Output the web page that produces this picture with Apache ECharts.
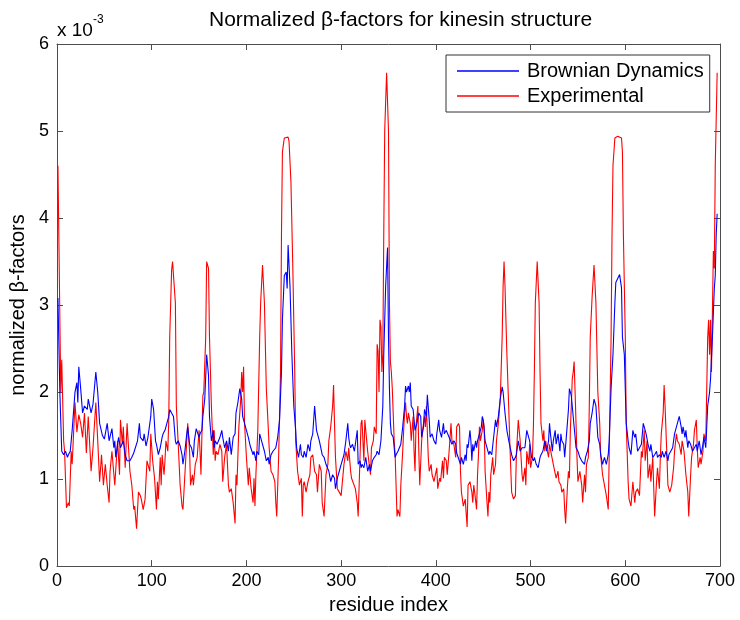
<!DOCTYPE html>
<html>
<head>
<meta charset="utf-8">
<script src="https://cdn.jsdelivr.net/npm/echarts@6/dist/echarts.min.js"></script>
<style>
  html, body { margin: 0; padding: 0; background: #fff; }
  #chart { width: 740px; height: 620px; }
</style>
</head>
<body>
<div id="chart"></div>
<script>
// values are in units of 1e-3
const expRes = [
  1, 4, 5, 7, 8, 10, 12, 13, 15, 16, 19, 21, 23, 25, 27, 29, 31, 33, 36, 38, 41, 43, 45, 47, 49, 51, 53, 55, 56, 58,
  61, 64, 66, 67, 69, 70, 72, 74, 76, 77, 79, 81, 82, 84, 86, 88, 89, 91, 93, 95, 98, 99, 101, 103, 105, 106, 107, 109, 110, 111,
  113, 114, 115, 117, 118, 119, 121, 122, 125, 126, 128, 130, 132, 133, 135, 137, 138, 140, 141, 143, 144, 146, 148, 150, 151, 152, 154, 155, 157, 158,
  160, 161, 163, 165, 166, 167, 168, 170, 172, 174, 175, 177, 179, 181, 182, 184, 186, 188, 189, 190, 192, 194, 195, 196, 197, 198, 200, 202, 203, 205,
  207, 208, 209, 210, 212, 214, 215, 217, 219, 221, 223, 224, 226, 228, 230, 231, 232, 234, 236, 237, 238, 240, 242, 244, 245, 247, 249, 251, 252, 254,
  256, 258, 259, 260, 261, 263, 265, 267, 268, 270, 272, 274, 275, 277, 279, 280, 282, 284, 286, 287, 289, 291, 292, 293, 294, 296, 298, 300, 301, 303,
  305, 307, 308, 310, 311, 313, 315, 317, 318, 320, 321, 322, 324, 325, 326, 328, 330, 331, 332, 334, 335, 337, 338, 339, 340, 341, 342, 343, 344, 345,
  346, 348, 350, 351, 352, 353, 354, 356, 357, 359, 360, 362, 363, 364, 365, 366, 367, 368, 369, 370, 371, 373, 374, 376, 377, 378, 379, 381, 382, 383,
  385, 386, 388, 389, 390, 392, 393, 395, 396, 398, 400, 401, 402, 404, 405, 407, 408, 409, 411, 412, 414, 415, 416, 417, 419, 421, 422, 424, 425, 426,
  427, 429, 431, 433, 434, 436, 438, 439, 440, 441, 443, 444, 445, 446, 447, 449, 450, 451, 452, 454, 455, 456, 457, 458, 460, 461, 463, 464, 466, 468,
  470, 471, 472, 473, 475, 477, 478, 480, 482, 484, 485, 487, 489, 491, 492, 494, 495, 496, 498, 499, 500, 502, 503, 504, 505, 507, 509, 510, 511, 513,
  514, 515, 516, 517, 519, 520, 522, 524, 526, 527, 529, 530, 532, 533, 535, 536, 537, 539, 540, 541, 542, 543, 544, 545, 546, 547, 548, 549, 550, 552,
  554, 555, 557, 558, 559, 561, 562, 563, 565, 567, 569, 571, 573, 574, 576, 578, 580, 582, 583, 585, 586, 587, 589, 592, 596, 597, 598, 600, 601, 603,
  604, 606, 608, 610, 611, 613, 615, 617, 618, 620, 621, 623, 624, 626, 627, 629, 631, 633, 634, 636, 637, 638, 640, 641, 642, 644, 645, 647, 649, 651,
  652, 654, 655, 657, 659, 660, 662, 664, 666, 667, 669, 670, 672, 673, 675, 676, 677, 679, 680, 682, 683, 685, 687, 688, 689, 690, 691, 693, 694, 695,
  697
];
const expVal = [
  4.60, 2.00, 2.37, 1.44, 1.32, 0.67, 0.73, 0.69, 1.32, 1.17, 1.88, 1.54, 1.74, 1.64, 1.48, 1.76, 1.30, 1.72, 1.09, 1.36, 1.88, 1.44, 0.97, 1.28, 0.93, 1.17, 0.93, 0.73, 1.09, 1.32,
  0.93, 1.44, 1.05, 1.68, 1.40, 1.60, 1.13, 1.64, 1.64, 1.09, 0.93, 0.65, 0.69, 0.43, 0.85, 0.81, 0.77, 0.65, 0.77, 1.21, 1.09, 1.52, 1.21, 1.01, 0.65, 0.97, 0.77, 1.25, 0.93, 1.28,
  1.05, 1.21, 1.44, 1.32, 1.68, 2.63, 3.40, 3.50, 3.02, 1.84, 1.40, 0.93, 0.69, 0.65, 0.67, 1.44, 1.64, 1.32, 0.93, 1.05, 0.93, 1.17, 1.25, 1.56, 1.32, 1.05, 1.96, 2.00, 2.63, 3.50,
  3.42, 2.63, 1.84, 1.28, 1.56, 1.21, 1.32, 1.28, 1.40, 1.32, 0.97, 1.25, 1.40, 0.93, 0.85, 0.89, 0.73, 0.49, 1.05, 0.93, 1.60, 1.92, 2.23, 2.00, 2.29, 1.64, 1.25, 0.93, 1.13, 0.89,
  0.73, 1.01, 0.69, 1.05, 1.56, 2.63, 3.02, 3.46, 3.02, 2.04, 1.60, 1.36, 1.09, 1.05, 0.97, 0.73, 0.57, 1.25, 2.23, 3.81, 4.76, 4.92, 4.94, 4.93, 4.88, 4.41, 3.42, 2.23, 1.44, 1.09,
  0.93, 1.01, 0.57, 0.93, 0.97, 0.85, 0.97, 1.05, 1.25, 1.28, 1.09, 1.05, 0.85, 1.17, 1.09, 0.73, 0.57, 1.05, 1.17, 1.44, 1.60, 1.84, 2.08, 1.64, 1.25, 0.89, 0.85, 0.81, 0.93, 1.17,
  1.32, 1.21, 1.36, 1.09, 1.01, 1.01, 0.89, 0.73, 0.57, 1.28, 1.64, 1.68, 1.21, 1.68, 1.56, 1.32, 1.13, 1.05, 1.36, 1.44, 1.60, 1.52, 2.55, 2.47, 2.00, 2.83, 2.75, 2.23, 2.43, 3.81,
  5.00, 5.67, 5.00, 3.02, 2.35, 2.23, 2.04, 1.44, 1.28, 0.57, 0.65, 0.57, 0.93, 0.93, 1.32, 1.56, 1.76, 1.88, 1.72, 1.64, 1.76, 1.64, 1.44, 1.72, 1.32, 1.09, 1.60, 1.84, 1.32, 0.93,
  1.44, 1.56, 1.72, 1.60, 1.84, 1.25, 1.09, 1.17, 1.05, 0.97, 0.97, 1.13, 0.89, 1.01, 0.97, 1.21, 1.01, 1.25, 1.21, 1.05, 1.32, 1.32, 1.64, 1.44, 1.40, 1.25, 1.60, 1.64, 1.60, 1.09,
  0.85, 0.69, 0.77, 0.45, 0.93, 0.97, 0.85, 0.73, 0.93, 0.85, 0.65, 1.05, 1.28, 1.60, 1.44, 1.56, 1.68, 1.60, 1.09, 0.73, 0.57, 0.85, 0.73, 1.05, 1.25, 1.05, 1.17, 1.44, 1.64, 1.92,
  2.63, 3.22, 3.50, 3.22, 2.43, 1.80, 1.44, 0.85, 0.77, 0.81, 1.28, 1.68, 1.44, 1.05, 0.97, 1.13, 0.93, 1.32, 1.17, 1.40, 1.13, 1.25, 1.60, 2.23, 3.02, 3.50, 3.02, 2.23, 1.64, 1.44,
  1.56, 1.32, 1.44, 1.36, 1.25, 1.40, 1.28, 1.17, 1.17, 1.01, 1.09, 0.97, 0.93, 0.85, 0.89, 0.65, 0.49, 0.93, 1.09, 1.01, 1.56, 1.84, 2.15, 2.23, 2.35, 2.00, 1.64, 1.25, 0.97, 1.09,
  0.93, 0.73, 1.05, 0.85, 1.17, 1.25, 1.84, 2.63, 3.10, 3.46, 3.02, 2.00, 1.64, 1.28, 1.05, 0.93, 0.81, 0.65, 1.25, 2.63, 3.81, 4.60, 4.92, 4.94, 4.92, 4.76, 3.81, 2.63, 1.64, 0.97,
  0.77, 0.69, 0.97, 0.73, 0.85, 0.89, 0.81, 1.32, 1.25, 1.56, 1.21, 1.44, 1.01, 1.17, 0.97, 1.25, 0.57, 0.97, 1.13, 0.89, 1.25, 1.52, 1.76, 2.08, 1.84, 1.25, 0.93, 0.85, 0.93, 1.13,
  1.32, 1.52, 1.44, 1.40, 1.28, 1.44, 1.32, 1.05, 0.85, 0.57, 1.05, 1.25, 1.40, 1.56, 1.68, 1.36, 1.13, 1.25, 1.17, 1.32, 1.52, 1.44, 2.63, 2.83, 2.43, 2.83, 2.23, 3.62, 3.42, 4.60,
  5.67
];

const bdRes = [
  1, 3, 5, 7, 9, 11, 12, 14, 16, 19, 21, 22, 23, 25, 27, 29, 32, 33, 36, 38, 41, 43, 45, 48, 50, 53, 55, 58, 60, 61,
  62, 65, 67, 68, 70, 72, 74, 75, 77, 79, 81, 83, 85, 87, 88, 91, 92, 94, 96, 98, 99, 100, 102, 104, 105, 107, 109, 111, 112, 114,
  116, 118, 119, 121, 123, 125, 126, 128, 130, 132, 133, 135, 137, 138, 140, 142, 144, 145, 147, 148, 150, 151, 153, 154, 156, 158, 160, 161, 163, 165,
  166, 167, 169, 170, 172, 174, 175, 177, 179, 181, 182, 184, 186, 188, 189, 191, 193, 195, 196, 198, 200, 202, 204, 207, 208, 210, 211, 213, 214, 216,
  217, 219, 221, 223, 224, 226, 228, 230, 231, 233, 235, 237, 238, 240, 242, 243, 244, 246, 248, 250, 252, 253, 255, 257, 258, 260, 261, 263, 265, 267,
  268, 270, 272, 274, 275, 277, 280, 282, 284, 286, 287, 289, 291, 293, 294, 296, 298, 300, 301, 303, 305, 307, 308, 309, 310, 312, 314, 315, 317, 318,
  320, 321, 322, 324, 326, 328, 330, 331, 333, 335, 337, 338, 340, 342, 344, 345, 347, 349, 350, 351, 352, 353, 355, 356, 357, 358, 360, 362, 363, 365,
  367, 368, 369, 371, 372, 373, 374, 376, 377, 378, 380, 382, 384, 385, 387, 388, 390, 391, 393, 394, 396, 398, 400, 401, 403, 404, 406, 408, 409, 411,
  412, 414, 415, 417, 419, 421, 422, 424, 426, 427, 429, 431, 432, 433, 434, 436, 437, 438, 439, 440, 442, 443, 444, 446, 448, 449, 450, 452, 454, 456,
  457, 459, 461, 463, 464, 466, 468, 470, 471, 473, 475, 477, 478, 480, 482, 484, 485, 487, 489, 491, 492, 494, 496, 497, 499, 501, 503, 504, 506, 508,
  510, 511, 513, 515, 517, 519, 520, 521, 523, 524, 526, 527, 529, 531, 532, 533, 535, 536, 538, 540, 541, 543, 545, 547, 548, 550, 552, 554, 555, 557,
  558, 560, 562, 563, 565, 567, 569, 571, 573, 574, 576, 578, 580, 582, 583, 585, 587, 589, 590, 592, 594, 596, 597, 599, 601, 603, 604, 606, 608, 610,
  611, 613, 615, 617, 618, 619, 620, 622, 624, 626, 627, 629, 631, 633, 634, 636, 638, 639, 641, 643, 645, 646, 648, 650, 652, 653, 655, 657, 659, 660,
  661, 663, 664, 666, 667, 669, 671, 673, 675, 676, 678, 680, 682, 683, 685, 687, 689, 690, 692, 694, 695, 696, 697
];
const bdVal = [
  3.08, 2.00, 1.32, 1.28, 1.32, 1.25, 1.28, 1.32, 1.56, 2.00, 2.11, 1.88, 2.29, 2.04, 1.76, 1.84, 1.80, 1.92, 1.76, 1.86, 2.23, 2.00, 1.64, 1.50, 1.46, 1.64, 1.44, 1.58, 1.36, 1.44,
  1.25, 1.48, 1.36, 1.38, 1.44, 1.28, 1.21, 1.23, 1.21, 1.25, 1.30, 1.32, 1.44, 1.64, 1.48, 1.44, 1.52, 1.38, 1.48, 1.64, 1.72, 1.92, 1.80, 1.44, 1.40, 1.28, 1.36, 1.48, 1.52, 1.56,
  1.64, 1.72, 1.80, 1.76, 1.72, 1.44, 1.40, 1.44, 1.38, 1.28, 1.17, 1.32, 1.52, 1.60, 1.40, 1.36, 1.25, 1.44, 1.58, 1.60, 1.48, 1.52, 1.56, 1.72, 1.92, 2.43, 2.19, 1.72, 1.44, 1.56,
  1.36, 1.44, 1.40, 1.40, 1.48, 1.56, 1.48, 1.36, 1.44, 1.32, 1.48, 1.28, 1.48, 1.52, 1.76, 1.88, 2.04, 1.92, 1.72, 1.64, 1.56, 1.48, 1.38, 1.28, 1.32, 1.21, 1.32, 1.28, 1.52, 1.52,
  1.40, 1.32, 1.21, 1.25, 1.17, 1.28, 1.32, 1.34, 1.36, 1.48, 1.68, 2.23, 2.83, 3.34, 3.38, 3.19, 3.69, 3.22, 2.43, 1.84, 1.56, 1.36, 1.25, 1.40, 1.28, 1.25, 1.32, 1.25, 1.40, 1.32,
  1.44, 1.52, 1.84, 1.56, 1.52, 1.44, 1.28, 1.25, 1.17, 1.17, 1.09, 0.97, 1.05, 1.01, 0.89, 1.01, 1.09, 1.17, 1.15, 1.28, 1.44, 1.64, 1.48, 1.40, 1.36, 1.40, 1.32, 1.40, 1.56, 1.17,
  1.21, 1.13, 1.17, 1.13, 1.25, 1.09, 1.17, 1.09, 1.21, 1.25, 1.28, 1.32, 1.28, 1.44, 1.84, 2.43, 3.22, 3.66, 2.63, 2.04, 1.64, 1.52, 1.48, 1.36, 1.25, 1.28, 1.32, 1.32, 1.40, 1.60,
  1.84, 2.07, 2.00, 2.07, 2.00, 2.11, 1.84, 1.80, 1.68, 1.56, 1.64, 1.76, 1.72, 1.48, 1.60, 1.80, 1.72, 1.97, 1.68, 1.48, 1.52, 1.44, 1.40, 1.52, 1.68, 1.56, 1.48, 1.64, 1.52, 1.56,
  1.56, 1.48, 1.48, 1.40, 1.44, 1.40, 1.30, 1.28, 1.17, 1.25, 1.17, 1.28, 1.21, 1.40, 1.36, 1.56, 1.44, 1.21, 1.40, 1.32, 1.44, 1.36, 1.44, 1.52, 1.60, 1.72, 1.68, 1.44, 1.44, 1.28,
  1.32, 1.28, 1.48, 1.68, 1.60, 1.72, 1.92, 2.06, 2.00, 1.76, 1.56, 1.44, 1.44, 1.28, 1.21, 1.25, 1.28, 1.44, 1.32, 1.36, 1.36, 1.36, 1.56, 1.52, 1.44, 1.25, 1.21, 1.25, 1.17, 1.13,
  1.25, 1.28, 1.32, 1.44, 1.32, 1.44, 1.64, 1.52, 1.32, 1.44, 1.56, 1.40, 1.52, 1.32, 1.52, 1.44, 1.40, 1.25, 1.52, 1.80, 2.04, 1.96, 1.72, 1.48, 1.36, 1.32, 1.25, 1.21, 1.21, 1.17,
  1.25, 1.32, 1.44, 1.64, 1.76, 1.92, 1.84, 1.48, 1.40, 1.28, 1.17, 1.25, 1.17, 1.28, 1.44, 2.04, 2.43, 3.02, 3.26, 3.28, 3.35, 3.20, 2.63, 2.43, 1.64, 1.44, 1.36, 1.28, 1.56, 1.48,
  1.52, 1.32, 1.36, 1.40, 1.52, 1.64, 1.60, 1.52, 1.40, 1.32, 1.40, 1.25, 1.28, 1.32, 1.25, 1.28, 1.25, 1.32, 1.25, 1.32, 1.21, 1.28, 1.32, 1.36, 1.52, 1.56, 1.64, 1.72, 1.60, 1.52,
  1.60, 1.48, 1.56, 1.36, 1.44, 1.40, 1.32, 1.36, 1.40, 1.32, 1.44, 1.28, 1.40, 1.48, 1.36, 1.84, 2.00, 2.15, 2.63, 3.19, 3.34, 3.81, 4.05
];

const xTicks = [0, 100, 200, 300, 400, 500, 600, 700];
const yTicks = [0, 1, 2, 3, 4, 5, 6];

const FONT = 'Liberation Sans, Arial, Helvetica, sans-serif';
const AXIS_COLOR = '#4d4d4d';

function toPairs(xs, ys) {
  return xs.map((x, i) => [x, ys[i]]);
}

const chart = echarts.init(document.getElementById('chart'), null, { renderer: 'canvas' });

const baseX = {
  type: 'value',
  min: xTicks[0],
  max: xTicks[xTicks.length - 1],
  interval: 100,
  splitLine: { show: false },
  axisLine: { onZero: false, lineStyle: { color: AXIS_COLOR, width: 1 } },
  axisTick: { inside: true, length: 6, lineStyle: { color: AXIS_COLOR } }
};

const baseY = {
  type: 'value',
  min: yTicks[0],
  max: yTicks[yTicks.length - 1],
  interval: 1,
  splitLine: { show: false },
  axisLine: { onZero: false, lineStyle: { color: AXIS_COLOR, width: 1 } },
  axisTick: { inside: true, length: 6, lineStyle: { color: AXIS_COLOR } }
};

chart.setOption({
  backgroundColor: '#ffffff',
  animation: false,
  textStyle: { fontFamily: FONT },
  grid: { left: 57, right: 20, top: 44, bottom: 52, containLabel: false },
  title: {
    text: 'Normalized \u03b2-factors for kinesin structure',
    left: 204,
    top: 5,
    textStyle: { fontFamily: FONT, fontSize: 21, fontWeight: 'normal', color: '#000' }
  },
  legend: {
    orient: 'vertical',
    left: 446,
    top: 55,
    icon: 'rect',
    itemWidth: 62,
    itemHeight: 1.5,
    itemGap: 5,
    padding: [6, 6, 6, 11],
    borderColor: '#333',
    borderWidth: 1,
    backgroundColor: '#fff',
    textStyle: { fontFamily: FONT, fontSize: 20, color: '#000', padding: [0, 0, 0, 3] },
    data: ['Brownian Dynamics', 'Experimental']
  },
  graphic: [
    {
      type: 'text',
      left: 57,
      top: 14,
      style: {
        text: '{b|x 10}{s|-3}',
        rich: {
          b: { fontFamily: FONT, fontSize: 19, fill: '#000', verticalAlign: 'bottom', padding: [7, 0, 0, 0] },
          s: { fontFamily: FONT, fontSize: 12, fill: '#000', verticalAlign: 'top' }
        }
      }
    }
  ],
  xAxis: [
    Object.assign({}, baseX, {
      position: 'bottom',
      name: 'residue index',
      nameLocation: 'middle',
      nameGap: 27,
      nameTextStyle: { fontFamily: FONT, fontSize: 20, color: '#000' },
      axisLabel: { fontFamily: FONT, fontSize: 18, color: '#000', margin: 6 }
    }),
    Object.assign({}, baseX, { position: 'top', axisLabel: { show: false } })
  ],
  yAxis: [
    Object.assign({}, baseY, {
      position: 'left',
      name: 'normalized \u03b2-factors',
      nameLocation: 'middle',
      nameGap: 26,
      nameRotate: 90,
      nameTextStyle: { fontFamily: FONT, fontSize: 20, color: '#000' },
      axisLabel: { fontFamily: FONT, fontSize: 18, color: '#000', margin: 8 }
    }),
    Object.assign({}, baseY, { position: 'right', axisLabel: { show: false } })
  ],
  series: [
    {
      name: 'Brownian Dynamics',
      type: 'line',
      data: toPairs(bdRes, bdVal),
      symbol: 'none',
      lineStyle: { color: '#0000ff', width: 1.1 },
      itemStyle: { color: '#0000ff' },
      z: 3
    },
    {
      name: 'Experimental',
      type: 'line',
      data: toPairs(expRes, expVal),
      symbol: 'none',
      lineStyle: { color: '#ff0000', width: 1.1 },
      itemStyle: { color: '#ff0000' },
      z: 2
    }
  ]
});
</script>
</body>
</html>
